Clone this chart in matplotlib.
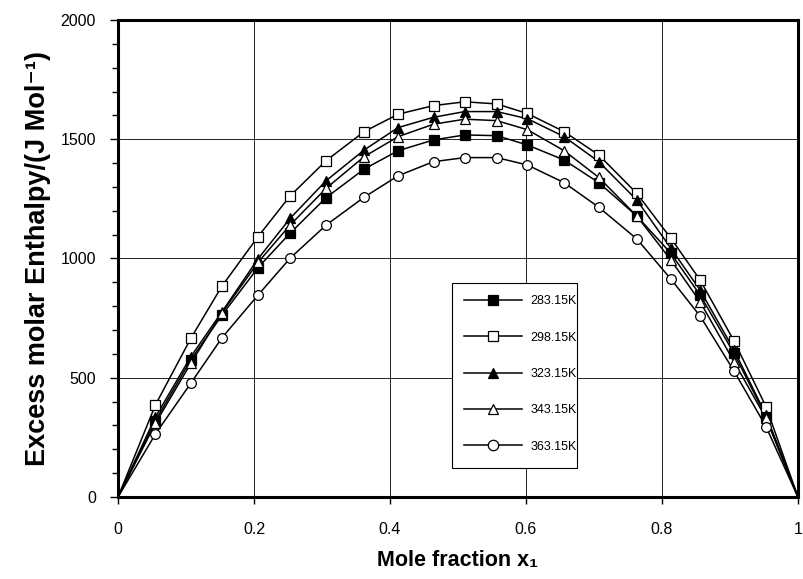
import numpy as np
import matplotlib.pyplot as plt
from matplotlib.ticker import MultipleLocator
from matplotlib.patches import Rectangle

plt.rcParams['font.family'] = ['Liberation Sans', 'DejaVu Sans']

# 摩尔分数 x1
x1 = [0, 0.055, 0.107, 0.153, 0.206, 0.253, 0.306, 0.362, 0.412, 0.464, 0.51,
      0.557, 0.602, 0.656, 0.707, 0.763, 0.813, 0.856, 0.906, 0.953, 1]

# 各温度下的超额摩尔焓 (J/mol)
h_283 = [0, 320, 575, 763, 962, 1106, 1255, 1375, 1452, 1497, 1518,
         1515, 1476, 1413, 1318, 1178, 1022, 847, 602, 337, 0]
h_298 = [0, 386, 665, 885, 1092, 1262, 1410, 1532, 1605, 1641, 1657,
         1648, 1608, 1532, 1434, 1273, 1085, 910, 654, 379, 0]
h_323 = [0, 335, 588, 777, 999, 1168, 1326, 1455, 1549, 1592, 1616,
         1616, 1586, 1511, 1406, 1245, 1043, 868, 616, 344, 0]
h_343 = [0, 309, 560, 773, 984, 1140, 1294, 1427, 1511, 1563, 1584,
         1578, 1540, 1452, 1340, 1178, 994, 819, 567, 330, 0]
h_363 = [0, 264, 477, 668, 847, 1001, 1140, 1257, 1347, 1406, 1423,
         1423, 1392, 1318, 1215, 1082, 914, 759, 528, 295, 0]

labels = ["283.15K", "298.15K", "323.15K", "343.15K", "363.15K"]
series = [h_283, h_298, h_323, h_343, h_363]
markers = ["s", "s", "^", "^", "o"]
faces = ["black", "white", "black", "white", "white"]

fig = plt.figure(figsize=(8.04, 5.79), dpi=100)
ax = fig.add_axes([0.1468, 0.1416, 0.8457, 0.8239])

for lab, h, m, fc in zip(labels, series, markers, faces):
    # 线连到端点，端点不画标记
    ax.plot(x1, h, color="black", lw=1.1, zorder=3)
    ax.plot(x1[1:-1], h[1:-1], linestyle="none", marker=m, ms=7,
            mfc=fc, mec="black", mew=0.9, zorder=4)
    ax.plot([], [], color="black", lw=1.1, marker=m, ms=7.5,
            mfc=fc, mec="black", mew=0.9, label=lab)

ax.set_xlim(0, 1)
ax.set_ylim(0, 2000)
ax.yaxis.set_major_locator(MultipleLocator(500))
ax.yaxis.set_minor_locator(MultipleLocator(100))
ax.set_xticks([0, 0.2, 0.4, 0.6, 0.8, 1])
ax.set_xticklabels(["0", "0.2", "0.4", "0.6", "0.8", "1"])

ax.grid(True, which="major", color="black", lw=0.6)
ax.set_axisbelow(True)

for sp in ax.spines.values():
    sp.set_linewidth(2.2)

ax.tick_params(axis="y", which="major", direction="out", length=6, width=1,
               pad=10, labelsize=11.5)
ax.tick_params(axis="y", which="minor", direction="out", length=4, width=1)
ax.tick_params(axis="x", which="major", direction="out", length=5, width=1,
               pad=13, labelsize=11.5)

ax.set_xlabel("Mole fraction x\u2081", fontsize=15.5, fontweight="bold",
              labelpad=9)
ax.set_ylabel("Excess molar Enthalpy/(J Mol\u207b\u00b9)", fontsize=19.5,
              fontweight="bold", labelpad=7)

leg = ax.legend(loc="upper left", bbox_to_anchor=(0.491, 0.449),
                borderaxespad=0, fontsize=9, labelspacing=1.95,
                handlelength=4.6, handletextpad=0.7, borderpad=1.0,
                frameon=False)

# 图例外框（比默认框窄一些）
ax.add_patch(Rectangle((0.491, 0.061), 0.184, 0.388, transform=ax.transAxes,
                       fill=True, facecolor="white", edgecolor="black",
                       lw=0.8, zorder=5))
leg.set_zorder(6)

plt.savefig("out.png", dpi=100)
